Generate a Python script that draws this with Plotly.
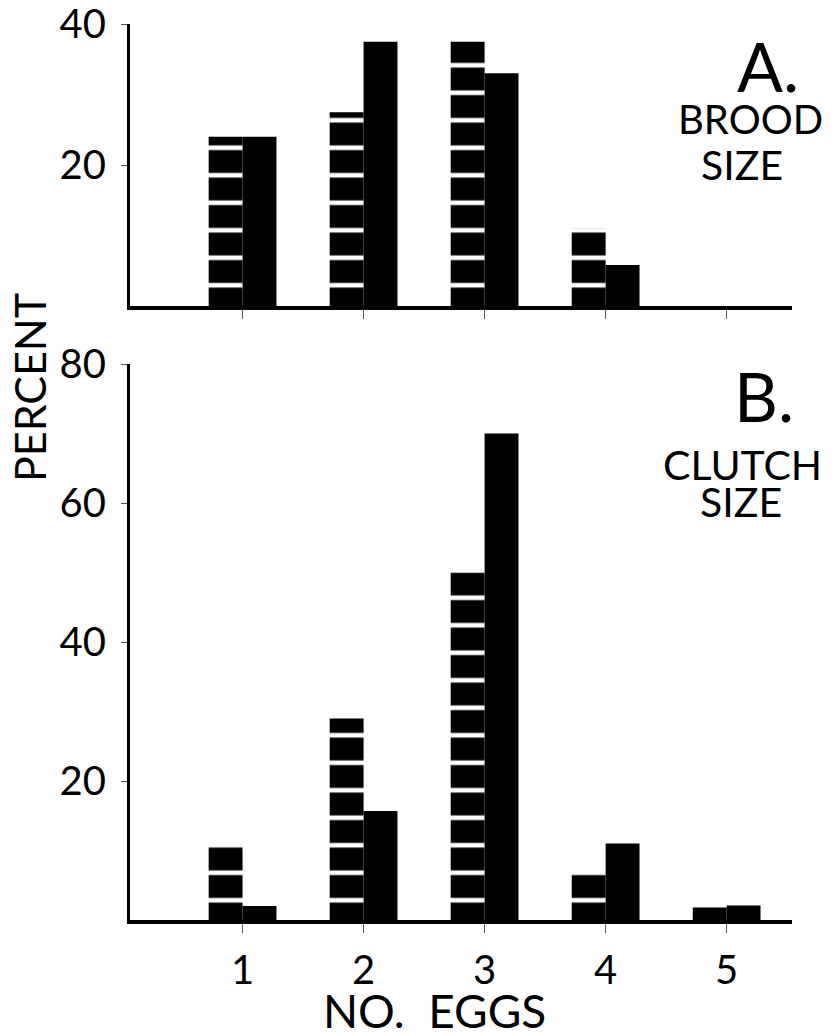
import plotly.graph_objects as go
from plotly.subplots import make_subplots

# ---- data ----
eggs = [1, 2, 3, 4, 5]
egg_labels = ["1", "2", "3", "4", "5"]

brood_striped = [24, 27.5, 37.5, 11, 0]
brood_solid = [24, 37.5, 33, 5.8, 0]

clutch_striped = [10.8, 29, 50, 7, 1.8]
clutch_solid = [2, 15.7, 70, 11, 2.1]

brood_yticks = [20, 40]
clutch_yticks = [20, 40, 60, 80]

# ---- layout geometry (page has an 8px body margin) ----
W, H = 816, 1020
ML, MR, MT, MB = 122, 32, 16, 108
PW = W - ML - MR
PH = H - MT - MB
OFF = 8

def px(x):
    return (x - OFF - ML) / PW

def py(y):
    return (H - MB - (y - OFF)) / PH

FONT = "Lato"

fig = make_subplots(rows=2, cols=1)

stripe = dict(shape="-", fgcolor="white", bgcolor="black", size=27.5,
              solidity=0.17, fillmode="replace")

def add_pair(striped, solid, row):
    fig.add_trace(go.Bar(x=eggs, y=striped,
                         marker=dict(color="black", pattern=stripe,
                                     line=dict(width=0)),
                         showlegend=False), row=row, col=1)
    fig.add_trace(go.Bar(x=eggs, y=solid,
                         marker=dict(color="black", line=dict(width=0)),
                         showlegend=False), row=row, col=1)

add_pair(brood_striped, brood_solid, 1)
add_pair(clutch_striped, clutch_solid, 2)

xaxis_common = dict(range=[0.07, 5.54], tickvals=eggs, showgrid=False,
                    zeroline=False, showline=True, linecolor="black",
                    linewidth=4, ticks="outside", ticklen=9, tickwidth=1,
                    tickcolor="#555", automargin=False,
                    ticklabeloverflow="allow")
yaxis_common = dict(showgrid=False, zeroline=False, showline=True,
                    linecolor="black", linewidth=3, ticks="outside", ticklen=6,
                    tickcolor="#555", tickwidth=1, ticklabelstandoff=7,
                    tickfont=dict(size=40, family=FONT), automargin=False,
                    ticklabeloverflow="allow")
fig.update_layout(
    width=W, height=H,
    margin=dict(l=ML, r=MR, t=MT, b=MB),
    paper_bgcolor="white", plot_bgcolor="white",
    barmode="group", bargap=0.44, bargroupgap=0,
    font=dict(family=FONT, color="black"),
    showlegend=False,
    xaxis=dict(domain=[0, 1], anchor="y", showticklabels=False, **xaxis_common),
    xaxis2=dict(domain=[0, 1], anchor="y2", ticktext=egg_labels,
                tickfont=dict(size=40, family=FONT), ticklabelstandoff=3,
                **xaxis_common),
    yaxis=dict(domain=[py(306), 1], range=[0, 40], tickvals=brood_yticks,
               **yaxis_common),
    yaxis2=dict(domain=[0, py(364)], range=[0, 80], tickvals=clutch_yticks,
                **yaxis_common),
)

def ann(text, x, y, size, angle=0):
    fig.add_annotation(text=text, x=px(x), y=py(y), xref="paper", yref="paper",
                       xanchor="center", yanchor="middle", showarrow=False,
                       textangle=angle,
                       font=dict(size=size, family=FONT, color="black"))

ann("A.", 768, 65, 68)
ann("BROOD", 750, 119, 40)
ann("SIZE", 742, 165, 41)
ann("B.", 764, 395, 68)
ann("CLUTCH", 742, 464, 41)
ann("SIZE", 741, 501, 41)
ann("PERCENT", 29, 388, 43, angle=-90)
ann("NO.&nbsp;&nbsp;EGGS", 434, 1010, 46)

fig.write_html("out.html")
